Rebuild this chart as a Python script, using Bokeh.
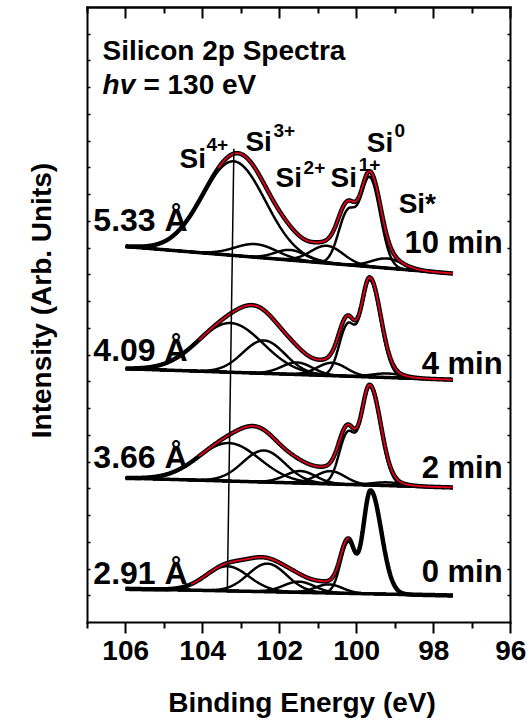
import numpy as np
from bokeh.plotting import figure
from bokeh.models import Range1d, LinearAxis, FixedTicker, Label
from bokeh.embed import file_html
from bokeh.resources import INLINE

# ---- spectra: 0, 2, 4 and 10 min (bottom to top) ----
thickness_labels = ["2.91 Å", "3.66 Å", "4.09 Å", "5.33 Å"]
time_labels = ["0 min", "2 min", "4 min", "10 min"]

energy_high, energy_low = 106.0, 97.5          # measured window (eV)
bg_high = [1.26, 5.40, 9.49, 14.06]            # linear background at 106 eV
bg_low = [1.01, 5.05, 9.08, 13.05]             # linear background at 97.5 eV

# fitted components: position (eV), amplitude, gaussian width (eV)
si4_pos = [103.36, 103.32, 103.28, 103.19]
si4_amp = [0.92, 1.42, 1.84, 3.52]
si4_wid = [0.56, 0.80, 0.85, 0.82]

si3_pos = [102.32, 102.41, 102.41, 102.62]
si3_amp = [1.05, 1.18, 1.23, 0.49]
si3_wid = [0.50, 0.55, 0.55, 0.55]

si2_pos = [101.50, 101.46, 101.55, 101.72]
si2_amp = [0.40, 0.45, 0.45, 0.38]
si2_wid = [0.40, 0.40, 0.40, 0.40]

si1_pos = [100.72, 100.68, 100.64, 100.77]
si1_amp = [0.32, 0.48, 0.48, 0.65]
si1_wid = [0.35, 0.38, 0.38, 0.42]

# bulk Si 2p doublet (2p3/2 main line + 2p1/2 shoulder)
si0_pos = [99.64, 99.66, 99.66, 99.66]
si0_amp = [3.86, 3.65, 3.60, 3.30]
si0_wid_high = [0.19, 0.22, 0.22, 0.24]
si0_wid_low = [0.28, 0.28, 0.28, 0.27]
si0_split = 0.58
shoulder_amp = [1.90, 1.87, 1.87, 1.90]
shoulder_wid_high = [0.20, 0.22, 0.22, 0.24]
shoulder_wid_low = [0.17, 0.20, 0.20, 0.22]

sistar_pos = [99.20, 99.20, 99.20, 99.21]
sistar_amp = [0.0, 0.12, 0.15, 0.36]
sistar_wid = [0.40, 0.40, 0.40, 0.40]

# energy span over which the measured (red) trace shows
data_from = [104.3, 104.1, 104.1, 103.6]
data_to = [100.2, 97.5, 97.5, 97.5]

# Si4+ guide line: energy and level at its two ends
guide_energy = [103.36, 103.19]
guide_level = [1.23, 17.72]

# axis ticks
major_e = [106, 104, 102, 100, 98, 96]
minor_e = [107, 105, 103, 101, 99, 97]
levels = list(range(1, 23))

FONT = "Liberation Sans"

# page geometry: the data box spans 107..96 eV and 0..23 units; the canvas
# around it is covered by the ranges so that every text can sit in data space
W, H = 527, 722
BOX_LEFT, BOX_BOTTOM = 86.7, 622.0     # pixel position of (107 eV, 0)
PX_PER_EV, PX_PER_UNIT = 38.5, 26.74
x_lo = 107 + BOX_LEFT / PX_PER_EV
x_hi = 107 - (W - BOX_LEFT) / PX_PER_EV
y_lo = -(H - BOX_BOTTOM) / PX_PER_UNIT
y_hi = BOX_BOTTOM / PX_PER_UNIT


def peak(e, center, amp, w_high, w_low):
    w = np.where(e >= center, w_high, w_low)
    return amp * np.exp(-0.5 * ((e - center) / w) ** 2)


energy = np.linspace(energy_high, energy_low, 851)

p = figure(width=W, height=H, x_range=Range1d(x_lo, x_hi), y_range=Range1d(y_lo, y_hi),
           output_backend="svg", toolbar_location=None,
           min_border=0, min_border_left=0, min_border_right=0,
           min_border_top=0, min_border_bottom=0,
           background_fill_color="white", border_fill_color="white")
p.xgrid.visible = False
p.ygrid.visible = False
p.outline_line_color = None

# bottom axis with labelled ticks
xa = p.xaxis[0]
xa.fixed_location = 0
xa.bounds = (96, 107)
xa.ticker = FixedTicker(ticks=major_e, minor_ticks=minor_e)
xa.axis_line_width = 2
xa.axis_line_cap = "square"
xa.major_tick_line_width = 2
xa.minor_tick_line_width = 2
xa.major_tick_out, xa.major_tick_in = 11, 0
xa.minor_tick_out, xa.minor_tick_in = 6, 0
xa.major_label_text_font = FONT
xa.major_label_text_font_style = "bold"
xa.major_label_text_font_size = "28px"
xa.major_label_text_color = "black"
xa.major_label_standoff = 7

# left edge: short inward ticks only
ya = p.yaxis[0]
ya.fixed_location = 107
ya.bounds = (0, 23)
ya.ticker = FixedTicker(ticks=[], minor_ticks=levels)
ya.axis_line_width = 2
ya.axis_line_cap = "square"
ya.major_tick_out, ya.major_tick_in = 0, 0
ya.minor_tick_line_width = 1.5
ya.minor_tick_out, ya.minor_tick_in = 0, 3

# top edge: long ticks at even energies, short ticks at odd energies
for ticks, length in ((major_e, 11), (minor_e, 6)):
    p.add_layout(LinearAxis(ticker=FixedTicker(ticks=[], minor_ticks=ticks),
                            fixed_location=23, bounds=(96, 107),
                            axis_line_width=2, axis_line_cap="square",
                            major_tick_in=0, major_tick_out=0,
                            minor_tick_line_width=2, minor_tick_in=length, minor_tick_out=0),
                 "above")

# right edge
p.add_layout(LinearAxis(ticker=FixedTicker(ticks=[], minor_ticks=levels),
                        fixed_location=96, bounds=(0, 23),
                        axis_line_width=2, axis_line_cap="square",
                        major_tick_in=0, major_tick_out=0,
                        minor_tick_line_width=1.5, minor_tick_in=3, minor_tick_out=0),
             "right")

for i in range(4):
    bg = bg_low[i] + (bg_high[i] - bg_low[i]) * (energy - energy_low) / (energy_high - energy_low)
    comps = [
        peak(energy, si4_pos[i], si4_amp[i], si4_wid[i], si4_wid[i]),
        peak(energy, si3_pos[i], si3_amp[i], si3_wid[i], si3_wid[i]),
        peak(energy, si2_pos[i], si2_amp[i], si2_wid[i], si2_wid[i]),
        peak(energy, si1_pos[i], si1_amp[i], si1_wid[i], si1_wid[i]),
        peak(energy, si0_pos[i], si0_amp[i], si0_wid_high[i], si0_wid_low[i])
        + peak(energy, si0_pos[i] + si0_split, shoulder_amp[i],
               shoulder_wid_high[i], shoulder_wid_low[i]),
    ]
    if sistar_amp[i] > 0:
        comps.append(peak(energy, sistar_pos[i], sistar_amp[i], sistar_wid[i], sistar_wid[i]))

    p.line(energy, bg, line_color="black", line_width=3.5)
    for c in comps:
        p.line(energy, bg + c, line_color="black", line_width=2.5)
    envelope = bg + sum(comps)
    p.line(energy, envelope, line_color="black", line_width=4.5)
    m = (energy <= data_from[i]) & (energy >= data_to[i])
    p.line(energy[m], envelope[m], line_color="#e8001c", line_width=1.8)

p.line(guide_energy, guide_level, line_color="black", line_width=1.5)


def put(text, x, y, size, align="left", style="bold", angle=0.0):
    # lift the text so that (x, y) lands on its baseline
    lift = 0.34 * size
    if angle:
        x += lift / PX_PER_EV
    else:
        y += lift / PX_PER_UNIT
    p.add_layout(Label(x=x, y=y, text=text, text_font=FONT, text_font_size=f"{size}px",
                       text_font_style=style, text_color="black", text_align=align,
                       text_baseline="alphabetic", angle=angle))


# axis titles
put("Binding Energy (eV)", 101.42, -3.33, 28, align="center")
put("Intensity (Arb. Units)", 107.95, 12.04, 28, align="center", angle=np.pi / 2)

put("Silicon 2p Spectra", 106.60, 21.02, 28)
put("hv", 106.60, 19.78, 28, style="bold italic")
put("= 130 eV", 105.54, 19.78, 28)

label_levels = [1.46, 5.80, 9.80, 14.66]
time_levels = [1.50, 5.42, 9.31, 13.80]
for i in range(4):
    put(thickness_labels[i], 106.84, label_levels[i], 32)
    put(time_labels[i], 96.21, time_levels[i], 31, align="right")

# oxidation-state labels with superscripts
put("Si", 104.60, 16.98, 28); put("4+", 103.90, 17.65, 19)
put("Si", 102.89, 17.65, 28); put("3+", 102.16, 18.14, 19)
put("Si", 102.11, 16.27, 28); put("2+", 101.38, 16.79, 19)
put("Si", 100.68, 16.27, 28); put("1+", 99.95, 16.90, 19)
put("Si", 99.74, 17.58, 28); put("0", 99.02, 18.14, 19)
put("Si*", 98.91, 15.33, 28)

open("out.html", "w").write(file_html(p, INLINE))
